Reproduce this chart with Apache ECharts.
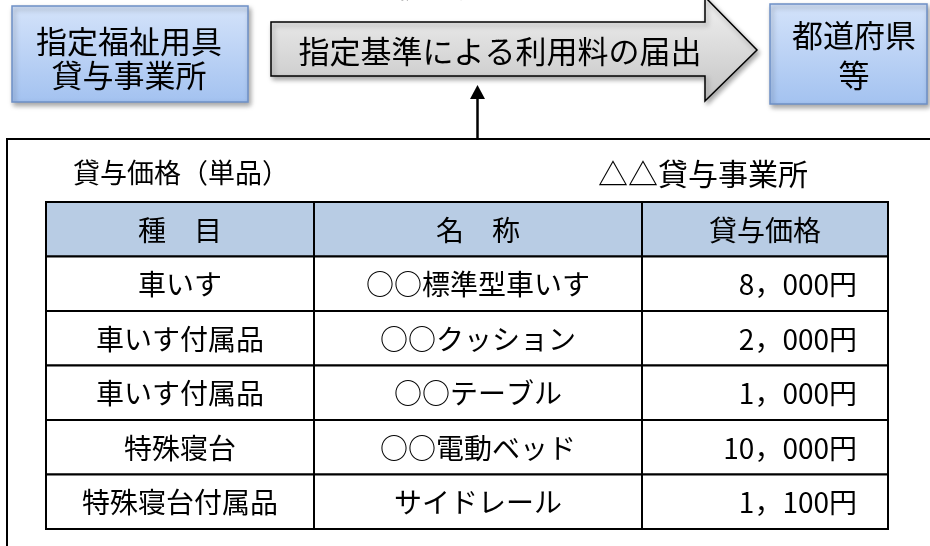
<!DOCTYPE html>
<html><head><meta charset="utf-8">
<script src="https://cdn.jsdelivr.net/npm/echarts@6/dist/echarts.min.js"></script>
<style>html,body{margin:0;padding:0;background:#fff}#c{width:930px;height:546px}</style>
</head><body><div id="c"></div>
<script>
// ---- data ----
const headers = ['種　目', '名　称', '貸与価格'];
const kinds = ['車いす', '車いす付属品', '車いす付属品', '特殊寝台', '特殊寝台付属品'];
const names = ['○○標準型車いす', '○○クッション', '○○テーブル', '○○電動ベッド', 'サイドレール'];
const prices = [8000, 2000, 1000, 10000, 1100];
const tableTitle = '貸与価格（単品）';
const officeName = '△△貸与事業所';
const leftBoxLines = ['指定福祉用具', '貸与事業所'];
const rightBoxLines = ['都道府県', '等'];
const arrowText = '指定基準による利用料の届出';
const topText = '【手続の流れ】';

// ---- layout (not data) ----
const colEdges = [0, 268, 596, 842];
const FONT = '"Noto Sans CJK JP", sans-serif';
const rowCats = ['header'].concat(kinds.map((k, i) => 'r' + i));

function fmtPrice(v) {
  return String(v).replace(/\B(?=(\d{3})+(?!\d))/g, '，') + '円';
}

const cells = [];
for (let c = 0; c < 3; c++) cells.push([c, 0, headers[c], 'h']);
kinds.forEach((k, i) => {
  cells.push([0, i + 1, k, 'c']);
  cells.push([1, i + 1, names[i], 'c']);
  cells.push([2, i + 1, fmtPrice(prices[i]), 'r']);
});

const chart = echarts.init(document.getElementById('c'), null, {renderer: 'canvas'});

function blueFill() {
  return new echarts.graphic.LinearGradient(0, 0, 0, 1, [
    {offset: 0, color: '#d4e3fa'}, {offset: 1, color: '#a3c2f0'}]);
}
const arrowFill = new echarts.graphic.LinearGradient(0, 0, 0, 1, [
  {offset: 0, color: '#f2f2f2'}, {offset: 1, color: '#c4c4c4'}]);

const shadow = {shadowBlur: 5, shadowOffsetX: 2, shadowOffsetY: 3, shadowColor: 'rgba(0,0,0,0.35)'};

chart.setOption({
  animation: false,
  grid: {left: 46, top: 202, width: 842, height: 327, show: false},
  xAxis: {type: 'value', min: 0, max: 842, show: false},
  yAxis: {type: 'category', data: rowCats, inverse: true, show: false},
  graphic: [
    // top (cut) heading
    {type: 'text', style: {text: topText, x: 438, y: 1, align: 'center', verticalAlign: 'bottom', font: '28px ' + FONT, fill: '#000'}},
    // left box
    {type: 'rect', shape: {x: 12, y: 6, width: 236, height: 96}, style: Object.assign({fill: blueFill(), stroke: '#6e90c6', lineWidth: 1.5}, shadow)},
    {type: 'text', style: {text: leftBoxLines.join('\n'), x: 129, y: 58, align: 'center', verticalAlign: 'middle', font: '31px ' + FONT, lineHeight: 34, fill: '#000'}},
    // right box
    {type: 'rect', shape: {x: 770, y: 4, width: 157, height: 100}, style: Object.assign({fill: blueFill(), stroke: '#6e90c6', lineWidth: 1.5}, shadow)},
    {type: 'text', style: {text: rightBoxLines.join('\n'), x: 854, y: 55, align: 'center', verticalAlign: 'middle', font: '31px ' + FONT, lineHeight: 40, fill: '#000'}},
    // big arrow
    {type: 'polygon', shape: {points: [[271, 22], [705, 22], [705, -3], [757, 50], [705, 101], [705, 76], [271, 76]]},
      style: Object.assign({fill: arrowFill, stroke: '#000', lineWidth: 1.5}, shadow)},
    {type: 'text', style: {text: arrowText, x: 500, y: 51, align: 'center', verticalAlign: 'middle', font: '31px ' + FONT, fill: '#000'}},
    // vertical arrow
    {type: 'line', shape: {x1: 477.5, y1: 139, x2: 477.5, y2: 98}, style: {stroke: '#000', lineWidth: 2.5}},
    {type: 'polygon', shape: {points: [[470, 99], [485, 99], [477.5, 85]]}, style: {fill: '#000'}},
    // big frame
    {type: 'rect', shape: {x: 7, y: 139, width: 1000, height: 500}, style: {fill: 'none', stroke: '#000', lineWidth: 2}},
    {type: 'text', style: {text: tableTitle, x: 73, y: 173, verticalAlign: 'middle', font: '27px ' + FONT, fill: '#000'}},
    {type: 'text', style: {text: officeName, x: 598, y: 174, verticalAlign: 'middle', font: '30px ' + FONT, fill: '#000'}}
  ],
  series: [{
    type: 'custom',
    coordinateSystem: 'cartesian2d',
    data: cells,
    renderItem: function (params, api) {
      const c = api.value(0), r = api.value(1);
      const d = cells[params.dataIndex];
      const p0 = api.coord([colEdges[c], r]);
      const p1 = api.coord([colEdges[c + 1], r]);
      const h = api.size([0, 1])[1];
      const x = p0[0], w = p1[0] - p0[0], y = p0[1] - h / 2;
      const isHead = d[3] === 'h';
      const right = d[3] === 'r';
      return {
        type: 'group',
        children: [
          {type: 'rect', shape: {x: x, y: y, width: w, height: h},
            style: {fill: isHead ? '#b8cce4' : '#fff', stroke: '#000', lineWidth: 2}},
          {type: 'text', style: {text: d[2], x: right ? x + w - 31 : x + w / 2, y: p0[1] + 1,
            align: right ? 'right' : 'center', verticalAlign: 'middle', font: '28px ' + FONT, fill: '#000'}}
        ]
      };
    }
  }]
});
</script></body></html>
